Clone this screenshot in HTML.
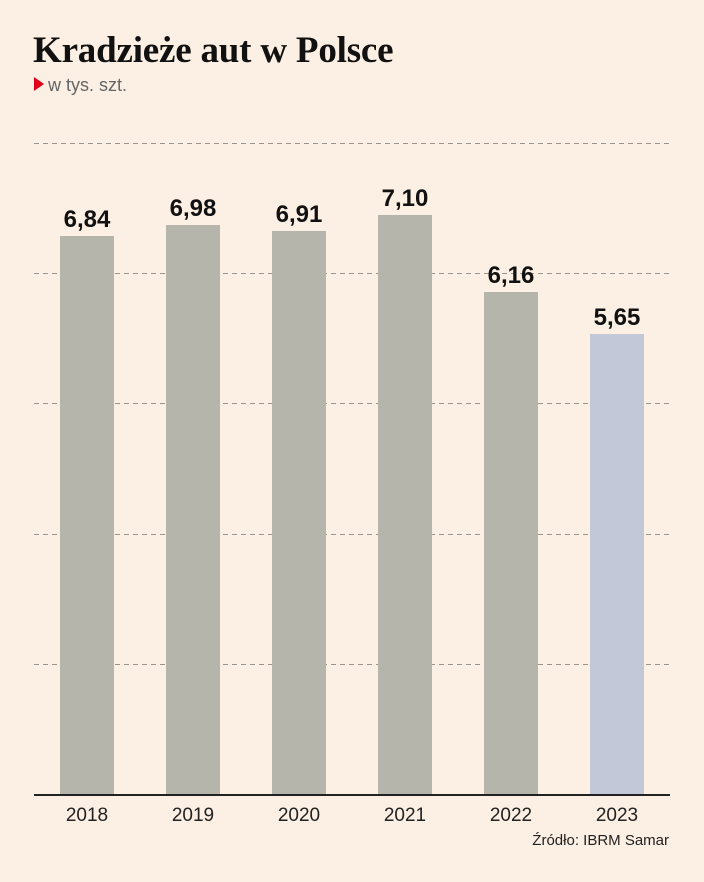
<!DOCTYPE html>
<html><head><meta charset="utf-8"><style>
body{margin:0;background:#fcefe3;}
svg{display:block}
</style></head><body>
<svg width="704" height="882" xmlns="http://www.w3.org/2000/svg">
<rect width="704" height="882" fill="#fcefe3"/>
<text x="33" y="62" font-family="Liberation Serif, serif" font-weight="bold" font-size="37" fill="#111" letter-spacing="-0.2">Kradzieże aut w Polsce</text>
<polygon points="34,77 44,84 34,91" fill="#e3001b"/>
<text x="48" y="91" font-family="Liberation Sans, sans-serif" font-size="18" fill="#666">w tys. szt.</text>
<g stroke="#9a958f" stroke-width="1" stroke-dasharray="5,4">
<line x1="34" y1="143.5" x2="670" y2="143.5"/>
<line x1="34" y1="273.5" x2="670" y2="273.5"/>
<line x1="34" y1="403.5" x2="670" y2="403.5"/>
<line x1="34" y1="534.5" x2="670" y2="534.5"/>
<line x1="34" y1="664.5" x2="670" y2="664.5"/>
</g>
<g fill="#b5b5ab">
<rect x="60" y="236" width="54" height="559"/>
<rect x="166" y="225" width="54" height="570"/>
<rect x="272" y="231" width="54" height="564"/>
<rect x="378" y="215" width="54" height="580"/>
<rect x="484" y="292" width="54" height="503"/>
</g>
<rect x="590" y="334" width="54" height="461" fill="#c3c8d9"/>
<line x1="34" y1="795" x2="670" y2="795" stroke="#222" stroke-width="2"/>
<g font-family="Liberation Sans, sans-serif" font-weight="bold" font-size="24" fill="#111" text-anchor="middle">
<text x="87" y="227">6,84</text>
<text x="193" y="216">6,98</text>
<text x="299" y="222">6,91</text>
<text x="405" y="206">7,10</text>
<text x="511" y="283">6,16</text>
<text x="617" y="325">5,65</text>
</g>
<g font-family="Liberation Sans, sans-serif" font-size="19" fill="#222" text-anchor="middle">
<text x="87" y="821">2018</text>
<text x="193" y="821">2019</text>
<text x="299" y="821">2020</text>
<text x="405" y="821">2021</text>
<text x="511" y="821">2022</text>
<text x="617" y="821">2023</text>
</g>
<text x="669" y="845" text-anchor="end" font-family="Liberation Sans, sans-serif" font-size="15" fill="#222">Źródło: IBRM Samar</text>
</svg>
</body></html>
